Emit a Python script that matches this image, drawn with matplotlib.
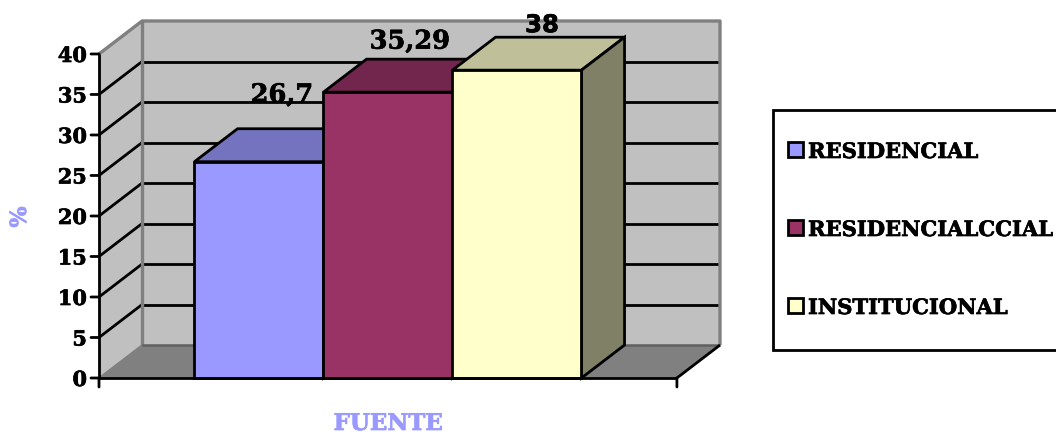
# 3D-look column chart of building use by source, drawn with flat polygons on a 2D axes
import matplotlib
matplotlib.use("Agg")
import matplotlib.pyplot as plt
import matplotlib.patheffects as pe
from matplotlib.patches import Polygon, Rectangle

categorias = ["RESIDENCIAL", "RESIDENCIALCCIAL", "INSTITUCIONAL"]
valores = [26.7, 35.29, 38]
colores = ["#9999FF", "#993366", "#FFFFCC"]
ticks_y = [0, 5, 10, 15, 20, 25, 30, 35, 40]

W, H = 1056, 437
SERIF = "DejaVu Serif"
LW = 2.0

# depth of the fake 3D box, in data units
dx = 0.334
dy = 4.07
gap = 0.74
x0 = -gap
x1 = 3 + gap
ymax = 40


def sombra(color, f):
    rgb = matplotlib.colors.to_rgb(color)
    return tuple(c * f for c in rgb)


def grueso(color="black", w=0.5):
    return [pe.withStroke(linewidth=w, foreground=color)]


fig = plt.figure(figsize=(W / 100, H / 100), dpi=100)
ax = fig.add_axes([99 / W, 1 - 378 / H, (720 - 99) / W, (378 - 21) / H])
ax.set_xlim(x0, x1 + dx)
ax.set_ylim(0, ymax + dy)
ax.axis("off")


def poly(pts, fc, ec="none", lw=0, z=1):
    ax.add_patch(Polygon(pts, closed=True, facecolor=fc, edgecolor=ec, linewidth=lw,
                         zorder=z, clip_on=False, joinstyle="miter"))


def linea(xs, ys, color="black", lw=LW, z=2):
    ax.plot(xs, ys, color=color, lw=lw, zorder=z, clip_on=False, solid_capstyle="butt")


# walls and floor
poly([(x0 + dx, dy), (x1 + dx, dy), (x1 + dx, ymax + dy), (x0 + dx, ymax + dy)], "#C0C0C0")
poly([(x0, 0), (x0 + dx, dy), (x0 + dx, ymax + dy), (x0, ymax)], "#C0C0C0")
poly([(x0, 0), (x1, 0), (x1 + dx, dy), (x0 + dx, dy)], "#808080")

# gridlines on the side and back walls
for t in ticks_y[1:]:
    if t < ymax:
        linea([x0, x0 + dx], [t, t + dy])
        linea([x0 + dx, x1 + dx], [t + dy, t + dy])

# wall outlines
linea([x0, x0 + dx, x1 + dx, x1 + dx], [ymax, ymax + dy, ymax + dy, dy], color="#808080", lw=2.4, z=3)
linea([x0 + dx, x0 + dx], [dy, ymax + dy], color="#808080", lw=2.4, z=3)
linea([x0, x0 + dx], [0, dy], color="#808080", lw=1.2, z=3)
linea([x0 + dx, x1 + dx], [dy, dy], color="#606060", lw=1.8, z=3)
linea([x1, x1 + dx], [0, dy], z=3)

# columns, left to right so each hides the side of the previous one
for i, (v, c) in enumerate(zip(valores, colores)):
    z = 4 + i
    poly([(i, v), (i + 1, v), (i + 1 + dx, v + dy), (i + dx, v + dy)], sombra(c, 0.75), "black", LW, z)
    poly([(i + 1, 0), (i + 1 + dx, dy), (i + 1 + dx, v + dy), (i + 1, v)], sombra(c, 0.5), "black", LW, z)
    poly([(i, 0), (i + 1, 0), (i + 1, v), (i, v)], c, "black", LW, z + 0.5)

# front axes
linea([x0, x0], [0, ymax], z=8)
linea([x0, x1], [0, 0], z=8)
for x in (x0, x1):
    ax.annotate("", xy=(x, 0), xytext=(0, -9), textcoords="offset pixels",
                arrowprops=dict(arrowstyle="-", color="black", lw=LW, shrinkA=0, shrinkB=0), zorder=8)
for t in ticks_y:
    ax.annotate(str(t), xy=(x0, t), xytext=(-12, 0), textcoords="offset pixels", ha="right", va="center_baseline",
                fontsize=15, fontweight="bold", family=SERIF, annotation_clip=False,
                path_effects=grueso())
    ax.annotate("", xy=(x0, t), xytext=(-8, 0), textcoords="offset pixels",
                arrowprops=dict(arrowstyle="-", color="black", lw=LW, shrinkA=0, shrinkB=0), zorder=8)

# value labels sit above and to the right of each column
offsets = [(23, 67), (22, 51), (25, 45)]
familias = [SERIF, SERIF, "DejaVu Sans"]
tamanos = [18.5, 18.5, 17.5]
for i, (v, off) in enumerate(zip(valores, offsets)):
    ax.annotate(f"{v:g}".replace(".", ","), xy=(i + 0.5, v), xytext=off, textcoords="offset pixels",
                ha="center", va="center", fontsize=tamanos[i], fontweight="bold", family=familias[i], zorder=9,
                path_effects=grueso())

# axis titles
fig.text(388 / W, 1 - 424 / H, "FUENTE", color="#9999FF", ha="center", va="center",
         fontsize=16.5, fontweight="bold", family=SERIF, path_effects=grueso("#9999FF"))
fig.text(20 / W, 1 - 217 / H, "%", color="#9999FF", ha="center", va="center", rotation=90,
         fontsize=16, fontweight="bold", family=SERIF, path_effects=grueso("#9999FF"))

# legend box runs off the right edge
fig.add_artist(Rectangle((773 / W, 1 - 350 / H), 300 / W, 240 / H, transform=fig.transFigure,
                         facecolor="white", edgecolor="black", linewidth=LW))
for nombre, c, yc in zip(categorias, colores, [150, 228, 306]):
    fig.add_artist(Rectangle((788 / W, 1 - (yc + 7) / H), 15 / W, 15 / H, transform=fig.transFigure,
                             facecolor=c, edgecolor="black", linewidth=LW))
    fig.text(808 / W, 1 - (yc + 2) / H, nombre, ha="left", va="center", fontsize=15.2, fontweight="bold",
             family=SERIF, path_effects=grueso())

fig.savefig("out.png", dpi=100)
